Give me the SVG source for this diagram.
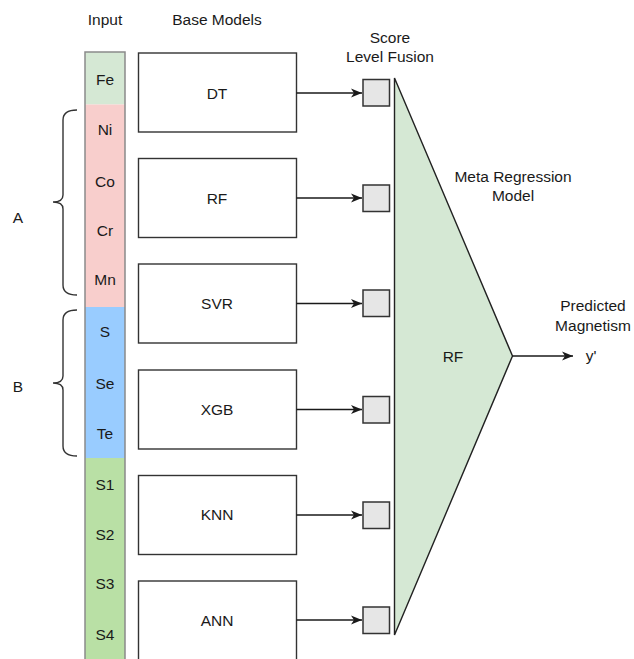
<svg xmlns="http://www.w3.org/2000/svg" width="634" height="659" viewBox="0 0 634 659">
<defs>
<style>
text{font-family:"Liberation Sans",Arial,sans-serif;font-size:15.5px;fill:#1a1a1a;text-anchor:middle}
.box{fill:#fff;stroke:#333;stroke-width:1.4}
.sq{fill:#e6e6e6;stroke:#333;stroke-width:1.5}
.edge{fill:none;stroke:#1a1a1a;stroke-width:1.4}
.brace{fill:none;stroke:#333;stroke-width:1.4}
</style>
<marker id="arr" markerUnits="userSpaceOnUse" markerWidth="12" markerHeight="10" refX="11" refY="5" orient="auto">
<path d="M0,0.5 L11,5 L0,9.5 L3,5 Z" fill="#1a1a1a"/>
</marker>
</defs>
<rect width="634" height="659" fill="#fff"/>

<g id="headers">
<text x="105" y="25">Input</text>
<text x="217" y="25">Base Models</text>
<text x="390" y="42.5">Score</text>
<text x="390" y="62">Level Fusion</text>
<text x="513" y="181.5">Meta Regression</text>
<text x="513" y="200.5">Model</text>
<text x="593" y="311">Predicted</text>
<text x="593" y="330.5">Magnetism</text>
</g>

<g id="input">
<rect x="85" y="52" width="40" height="52.5" fill="#d5e8d4"/>
<rect x="85" y="104.5" width="40" height="202.5" fill="#f8cecc"/>
<rect x="85" y="307" width="40" height="151" fill="#99ccff"/>
<rect x="85" y="458" width="40" height="204" fill="#b9e0a5"/>
<rect x="85" y="52" width="40" height="610" fill="none" stroke="#8a8a8a" stroke-width="1.5"/>
<text x="105" y="84.5">Fe</text>
<text x="105" y="135">Ni</text>
<text x="105" y="186.5">Co</text>
<text x="105" y="235.5">Cr</text>
<text x="105" y="284.5">Mn</text>
<text x="105" y="336.5">S</text>
<text x="105" y="388.5">Se</text>
<text x="105" y="438.5">Te</text>
<text x="105" y="489.5">S1</text>
<text x="105" y="539.5">S2</text>
<text x="105" y="588.5">S3</text>
<text x="105" y="639.5">S4</text>
</g>

<g id="braceA">
<path class="brace" d="M77,110 Q63,110 63,120 L63,195 Q63,202 53,202 Q63,202 63,209 L63,285 Q63,295 77,295"/>
<text x="18" y="222.5">A</text>
</g>
<g id="braceB">
<path class="brace" d="M77,310 Q63,310 63,320 L63,376 Q63,383 53,383 Q63,383 63,390 L63,446 Q63,456 77,456"/>
<text x="18" y="391.5">B</text>
</g>

<g id="model-DT"><rect class="box" x="138.5" y="53" width="158" height="79"/><text x="217" y="98.5">DT</text></g>
<g id="model-RF"><rect class="box" x="138.5" y="158.5" width="158" height="79"/><text x="217" y="203.5">RF</text></g>
<g id="model-SVR"><rect class="box" x="138.5" y="264" width="158" height="79"/><text x="217" y="308.5">SVR</text></g>
<g id="model-XGB"><rect class="box" x="138.5" y="370" width="158" height="79"/><text x="217" y="414.5">XGB</text></g>
<g id="model-KNN"><rect class="box" x="138.5" y="475.5" width="158" height="79"/><text x="217" y="519.5">KNN</text></g>
<g id="model-ANN"><rect class="box" x="138.5" y="581" width="158" height="79"/><text x="217" y="625.5">ANN</text></g>

<g id="fusion">
<rect class="sq" x="363" y="79.5" width="26.5" height="26.5"/>
<rect class="sq" x="363" y="185" width="26.5" height="26.5"/>
<rect class="sq" x="363" y="290" width="26.5" height="26.5"/>
<rect class="sq" x="363" y="396.5" width="26.5" height="26.5"/>
<rect class="sq" x="363" y="502" width="26.5" height="26.5"/>
<rect class="sq" x="363" y="607" width="26.5" height="26.5"/>
</g>

<g id="meta-RF">
<path d="M394.5,78 L512.5,356 L394.5,635 Z" fill="#d5e8d4" stroke="#222" stroke-width="1.4" stroke-linejoin="miter"/>
<text x="453" y="362">RF</text>
</g>

<g id="output">
<text x="591" y="361">y'</text>
</g>

<g id="connectors">
<path class="edge" marker-end="url(#arr)" d="M296.5,93 L362,93"/>
<path class="edge" marker-end="url(#arr)" d="M296.5,198 L362,198"/>
<path class="edge" marker-end="url(#arr)" d="M296.5,303.5 L362,303.5"/>
<path class="edge" marker-end="url(#arr)" d="M296.5,409.5 L362,409.5"/>
<path class="edge" marker-end="url(#arr)" d="M296.5,515 L362,515"/>
<path class="edge" marker-end="url(#arr)" d="M296.5,620 L362,620"/>
<path class="edge" marker-end="url(#arr)" d="M512.5,356 L573,356"/>
</g>
</svg>
